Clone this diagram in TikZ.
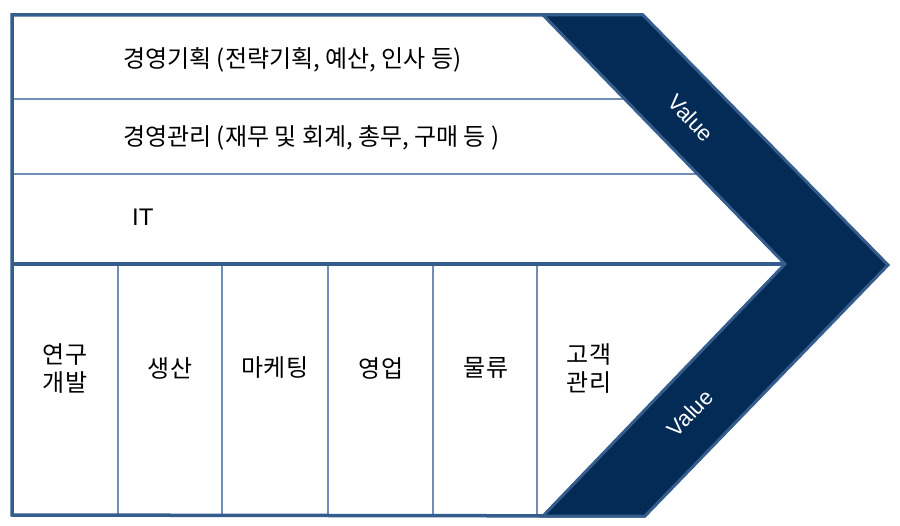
\documentclass[tikz,border=0pt]{standalone}
\usepackage{fontspec}
\usepackage{tikz}
\setmainfont{Liberation Sans}
\newfontfamily\kr{Noto Sans CJK KR}
\definecolor{frameblue}{RGB}{52,92,140}
\definecolor{lineblue}{RGB}{112,142,182}
\definecolor{navy}{RGB}{4,43,85}

\begin{document}
\begin{tikzpicture}[x=1pt, y=-1pt,
  label/.style={inner sep=0pt, font=\kr\fontsize{24}{28}\selectfont},
  col/.style={label, align=center},
  value/.style={inner sep=0pt, text=white, font=\fontsize{22}{24}\selectfont}]
\useasboundingbox[fill=white] (0,0) rectangle (900,526);
% corners of the chevron
\coordinate (outtop) at (643,15);
\coordinate (outtip) at (888,265);
\coordinate (outbot) at (645,516);
\coordinate (inbot) at (543,516);
\coordinate (intip) at (785,264);
\coordinate (intop) at (543,15);
% thin lines
\draw[lineblue, line width=1.3pt] (12,99) -- (700,99);
\draw[lineblue, line width=1.3pt] (12,174) -- (740,174);
\foreach \x in {118,222,328,433,537}
  \draw[lineblue, line width=1.3pt] (\x,263) -- (\x,515);
% frame
\draw[frameblue, line width=3.5pt] (outtop) -- (12,15) -- (12,515) -- (outbot);
\draw[frameblue, line width=3.5pt] (12,264) -- (intip);
% chevron
\draw[frameblue, fill=navy, line width=3pt, line join=miter]
  (intop) -- (outtop) -- (outtip) -- (outbot) -- (inbot) -- (intip) -- cycle;
% labels
\node[label, anchor=west] (planning) at (123,60) {경영기획 (전략기획, 예산, 인사 등)};
\node[label, anchor=west] (admin) at (123,138) {경영관리 (재무 및 회계, 총무, 구매 등 )};
\node[inner sep=0pt, anchor=west, font=\fontsize{24}{28}\selectfont] (it) at (132,217) {IT};
\node[col] (rnd) at (65,369) {연구\\개발};
\node[col] (production) at (170,368) {생산};
\node[col] (marketing) at (275,368) {마케팅};
\node[col] (sales) at (381,368) {영업};
\node[col] (logistics) at (486,368) {물류};
\node[col] (customer) at (589,369) {고객\\관리};
\node[value, rotate=-46] (valuetop) at (691,118) {Value};
\node[value, rotate=46] (valuebot) at (690,413) {Value};
\end{tikzpicture}
\end{document}
